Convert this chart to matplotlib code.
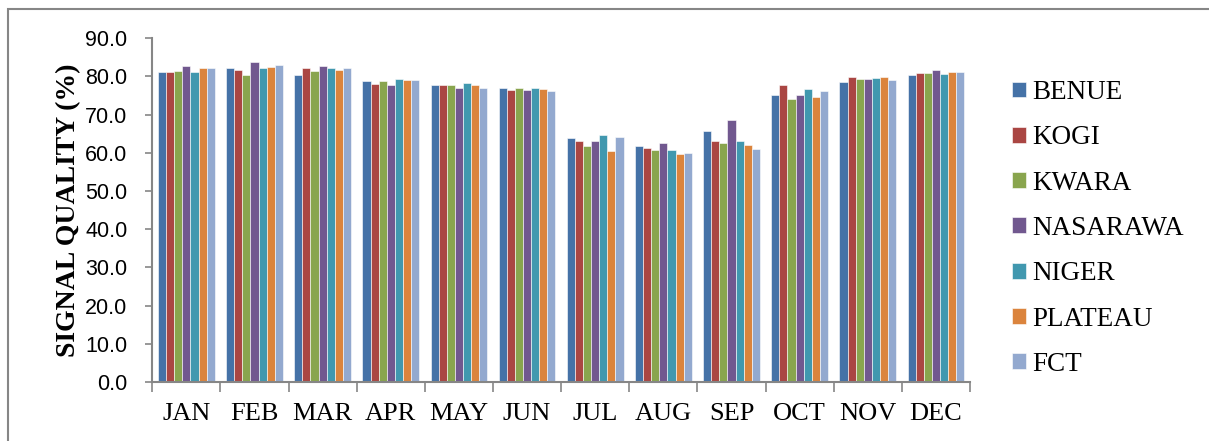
#!/usr/bin/env python3

import numpy as np
import matplotlib
matplotlib.use("Agg")
import matplotlib.pyplot as plt
from matplotlib.patches import Rectangle

# monthly signal quality (%) per state
months = ["JAN", "FEB", "MAR", "APR", "MAY", "JUN",
          "JUL", "AUG", "SEP", "OCT", "NOV", "DEC"]
states = ["BENUE", "KOGI", "KWARA", "NASARAWA", "NIGER", "PLATEAU", "FCT"]

benue    = [81.1, 82.1, 80.5, 78.7, 77.8, 77.1, 63.8, 61.7, 65.7, 75.1, 78.5, 80.5]
kogi     = [81.1, 81.8, 82.1, 78.1, 77.8, 76.5, 63.1, 61.3, 63.1, 77.8, 79.8, 80.8]
kwara    = [81.4, 80.5, 81.4, 78.7, 77.8, 77.1, 61.7, 60.7, 62.7, 74.0, 79.4, 80.8]
nasarawa = [82.7, 83.7, 82.7, 77.8, 77.1, 76.5, 63.1, 62.7, 68.7, 75.1, 79.4, 81.8]
niger    = [81.3, 82.1, 82.1, 79.3, 78.4, 76.9, 64.8, 60.8, 63.1, 76.6, 79.6, 80.7]
plateau  = [82.1, 82.5, 81.8, 79.2, 77.8, 76.7, 60.4, 59.7, 62.0, 74.7, 79.8, 81.1]
fct      = [82.1, 83.1, 82.1, 79.2, 77.1, 76.1, 64.1, 60.0, 61.0, 76.1, 79.1, 81.1]

series = [benue, kogi, kwara, nasarawa, niger, plateau, fct]
colors = ["#4572A7", "#AA4643", "#89A54E", "#71588F", "#4198AF", "#DB843D", "#93A9CF"]

axis_grey = "#868686"

fig = plt.figure(figsize=(12.09, 4.41), dpi=100)
ax = fig.add_axes([152.3 / 1209, 1 - 382 / 441, 817.7 / 1209, (382 - 38.3) / 441])

# bars: 7 per month, group fills ~83% of the slot
x = np.arange(len(months))
w = 0.119
for i, (vals, name, c) in enumerate(zip(series, states, colors)):
    offs = (i - 3) * w
    ax.bar(x + offs, vals, width=w, color=c, label=name,
           edgecolor="white", linewidth=0.4)

ax.set_xlim(-0.5, len(months) - 0.5)
ax.set_ylim(0, 90)
ax.set_yticks(np.arange(0, 91, 10))
ax.set_yticklabels(["%.1f" % v for v in np.arange(0, 91, 10)],
                   fontfamily="Liberation Sans", fontsize=15.5)
ax.set_xticks(x)
ax.set_xticklabels(months, fontfamily="Liberation Serif", fontsize=19)
ax.set_xticks(np.arange(-0.5, len(months), 1), minor=True)

ax.tick_params(axis="y", direction="out", length=5, width=1.2, color=axis_grey, pad=13)
ax.tick_params(axis="x", which="major", length=0, pad=15)
ax.tick_params(axis="x", which="minor", direction="out", length=7, width=1.2, color=axis_grey)

for side in ["top", "right"]:
    ax.spines[side].set_visible(False)
for side in ["left", "bottom"]:
    ax.spines[side].set_color(axis_grey)
    ax.spines[side].set_linewidth(1.5)

ax.set_ylabel("SIGNAL QUALITY (%)", fontfamily="Liberation Serif",
              fontweight="bold", fontsize=20)
ax.yaxis.set_label_coords(-0.087, 0.5)

ax.legend(loc="upper left", bbox_to_anchor=(1012 / 1209, 1 - 80 / 441),
          bbox_transform=fig.transFigure, frameon=False, borderpad=0,
          borderaxespad=0, handlelength=0.52, handleheight=0.52,
          handletextpad=0.22, labelspacing=0.75,
          prop={"family": "Liberation Serif", "size": 19.5})

# chart border (only left and top edges fall inside the picture)
fig.add_artist(Rectangle((8 / 1209, -0.05), 1.0, 1.05 - 9 / 441,
                         transform=fig.transFigure, fill=False,
                         edgecolor=axis_grey, linewidth=1.5))

fig.savefig("out.png", dpi=100)
